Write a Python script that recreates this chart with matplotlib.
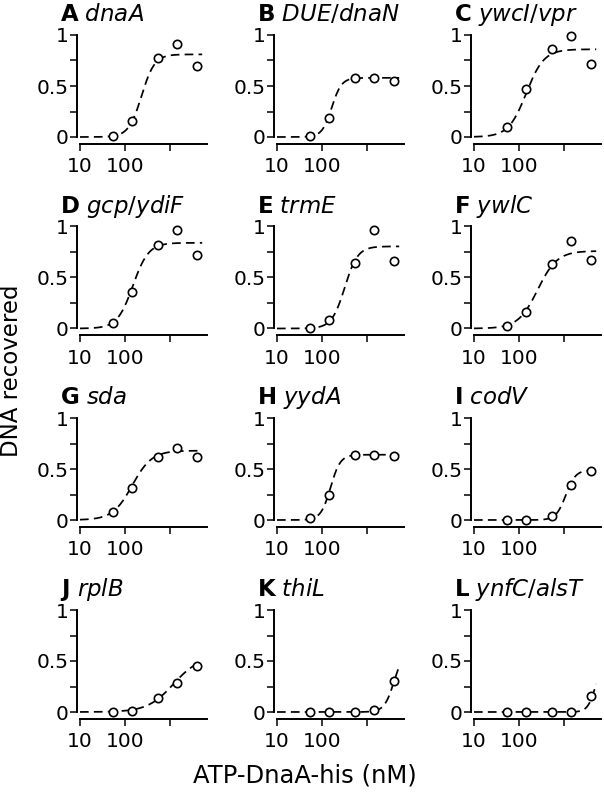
import matplotlib
matplotlib.use("Agg")
import matplotlib.pyplot as plt
import numpy as np

plt.rcParams['font.family'] = ['DejaVu Sans']
plt.rcParams['mathtext.fontset'] = 'dejavusans'

# concentrations of ATP-DnaA-his (nM), same for all panels
conc = [53, 140, 530, 1400, 4000]

letters = ['A', 'B', 'C', 'D', 'E', 'F', 'G', 'H', 'I', 'J', 'K', 'L']
genes = ['dnaA', 'DUE/dnaN', 'ywcI/vpr', 'gcp/ydiF', 'trmE', 'ywlC',
         'sda', 'yydA', 'codV', 'rplB', 'thiL', 'ynfC/alsT']

# DNA recovered, one list per panel
recovered = [
    [0.01, 0.16, 0.77, 0.91, 0.70],
    [0.01, 0.19, 0.58, 0.58, 0.55],
    [0.10, 0.47, 0.86, 0.99, 0.72],
    [0.05, 0.36, 0.815, 0.965, 0.725],
    [0.00, 0.08, 0.64, 0.965, 0.66],
    [0.02, 0.165, 0.635, 0.855, 0.67],
    [0.075, 0.31, 0.615, 0.71, 0.615],
    [0.02, 0.25, 0.64, 0.64, 0.63],
    [0.00, 0.00, 0.04, 0.34, 0.48],
    [0.00, 0.01, 0.14, 0.28, 0.455],
    [0.00, 0.00, 0.00, 0.02, 0.30],
    [0.00, 0.00, 0.00, 0.00, 0.155],
]

# Hill fit parameters per panel: plateau, K (nM), Hill coefficient
fit_bmax = [0.81, 0.58, 0.86, 0.84, 0.805, 0.76, 0.68, 0.64, 0.49, 0.55, 0.60, 0.50]
fit_k = [234, 165, 145, 150, 320, 260, 145, 155, 1100, 1200, 4000, 5000]
fit_n = [3.0, 4.0, 2.2, 2.5, 3.0, 2.0, 2.0, 4.0, 4.0, 1.5, 4.0, 5.0]

W, H = 604, 800
fig = plt.figure(figsize=(W / 100, H / 100), dpi=100)

col_x = [77, 274, 471]          # left spine position (px)
row_top = [35, 226.5, 418, 610]  # y = 1 position (px)
ax_w = 130
y_lo = -0.064
ax_h = 102 * (1 - y_lo)
x_lo, x_hi = 8.58, 6650

xfit = np.logspace(1, np.log10(5200), 200)

for i in range(12):
    r, c = divmod(i, 3)
    left = col_x[c] / W
    bottom = 1 - (row_top[r] + ax_h) / H
    ax = fig.add_axes([left, bottom, ax_w / W, ax_h / H])

    yfit = fit_bmax[i] * xfit ** fit_n[i] / (fit_k[i] ** fit_n[i] + xfit ** fit_n[i])
    ax.plot(xfit, yfit, color='black', lw=1.25, dashes=(5, 3), zorder=2)
    ax.plot(conc, recovered[i], 'o', ms=6, mfc='white', mec='black',
            mew=1.2, clip_on=False, zorder=3)

    ax.set_xscale('log')
    ax.set_xlim(x_lo, x_hi)
    ax.set_ylim(y_lo, 1.0)

    for s in ['top', 'right']:
        ax.spines[s].set_visible(False)
    ax.spines['left'].set_bounds(0, 1)
    ax.spines['bottom'].set_bounds(10, x_hi)
    for s in ['left', 'bottom']:
        ax.spines[s].set_linewidth(1.4)

    ax.set_yticks([0, 0.5, 1])
    ax.set_yticklabels(['0', '0.5', '1'])
    ax.set_yticks([0.25, 0.75], minor=True)
    ax.set_xticks([10, 100, 1000])
    ax.set_xticklabels(['10', '100', ''])
    ax.xaxis.set_minor_locator(matplotlib.ticker.NullLocator())
    ax.tick_params(axis='y', which='both', direction='out', length=5,
                   width=1.1, labelsize=14.5, pad=1)
    ax.tick_params(axis='x', which='major', direction='out', length=5,
                   width=1.1, labelsize=14.5, pad=5)
    ax.patch.set_visible(False)

    title = r'$\mathbf{%s}$ $\mathit{%s}$' % (letters[i], genes[i])
    ax.annotate(title, xy=(0, 1), xycoords='axes fraction',
                xytext=(-12, 10), textcoords='offset points',
                ha='left', va='baseline', fontsize=16.5)

fig.text(12 / W, 1 - 371 / H, 'DNA recovered', rotation=90,
         ha='center', va='center', fontsize=16.5)
fig.text(305 / W, 1 - 775 / H, 'ATP-DnaA-his (nM)',
         ha='center', va='center', fontsize=17.5)

fig.savefig('out.png', dpi=100)
